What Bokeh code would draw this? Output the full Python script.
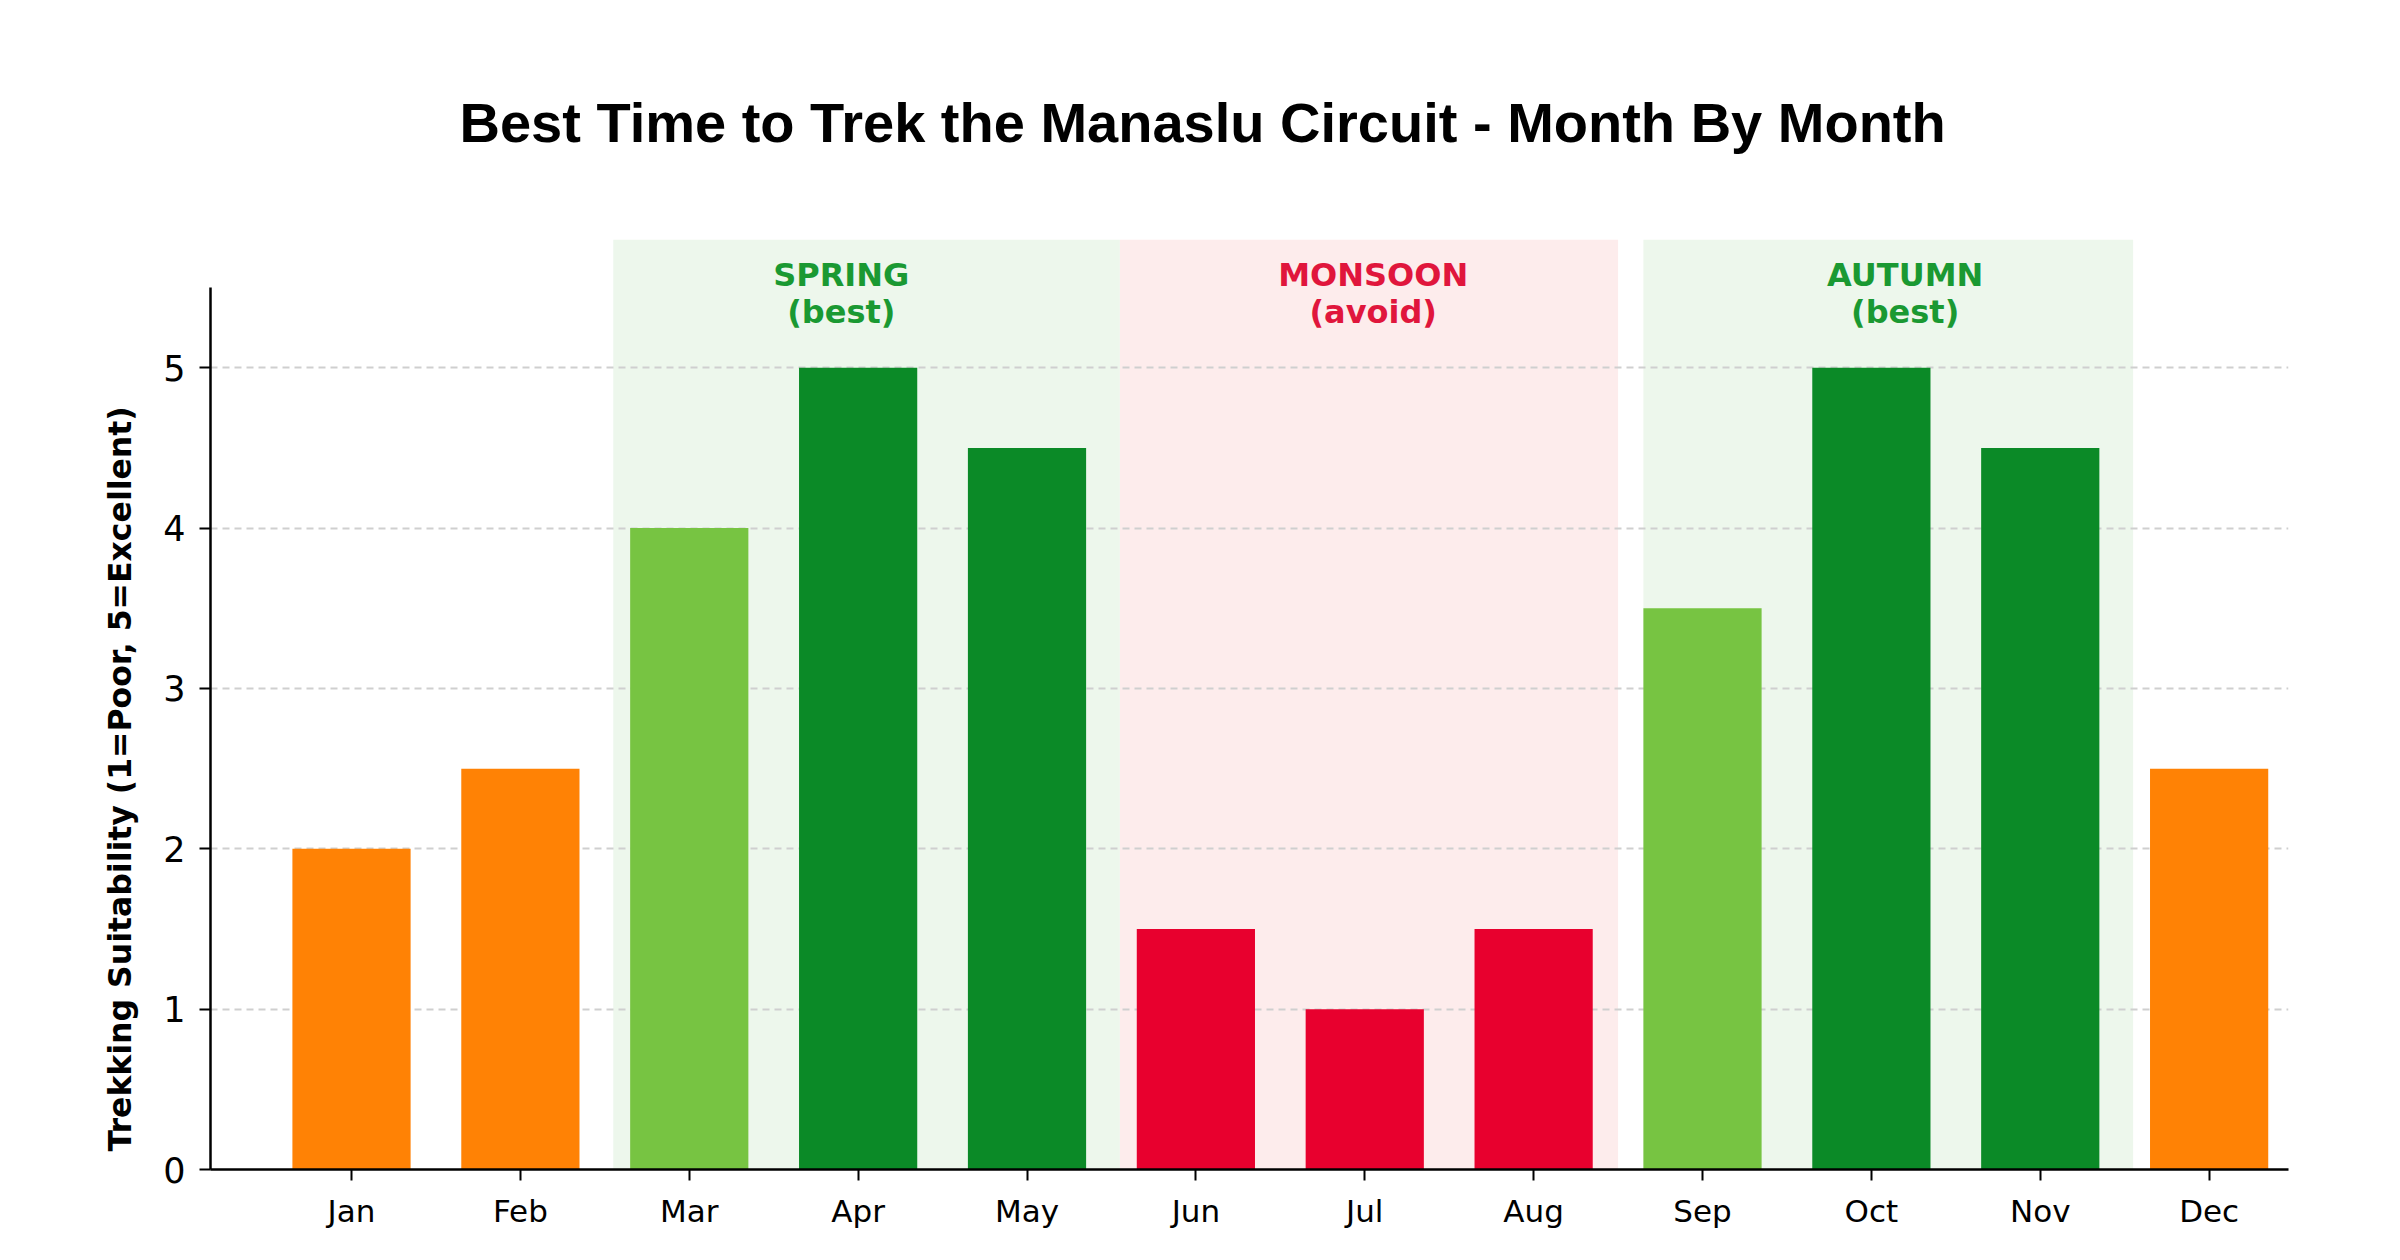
from bokeh.plotting import figure
from bokeh.models import Range1d, FixedTicker, BoxAnnotation, ColumnDataSource, Title
from bokeh.core.properties import value
from bokeh.embed import file_html
from bokeh.resources import INLINE

months = ["Jan", "Feb", "Mar", "Apr", "May", "Jun",
          "Jul", "Aug", "Sep", "Oct", "Nov", "Dec"]
scores = [2, 2.5, 4, 5, 4.5, 1.5, 1, 1.5, 3.5, 5, 4.5, 2.5]
bar_colors = ["#FF8205", "#FF8205", "#77C442", "#0B8A27", "#0B8A27", "#E8002E",
              "#E8002E", "#E8002E", "#77C442", "#0B8A27", "#0B8A27", "#FF8205"]

seasons = ["SPRING", "MONSOON", "AUTUMN"]
season_notes = ["(best)", "(avoid)", "(best)"]
season_start = [1.55, 4.55, 7.65]
season_end = [4.55, 7.5, 10.55]
season_fill = ["#EDF7EC", "#FDECEC", "#EDF7EC"]
season_text = ["#1A9932", "#E0163C", "#1A9932"]
season_label_x = [2.9, 6.05, 9.2]

x = list(range(len(months)))

p = figure(width=2384, height=1244, output_backend="svg", toolbar_location=None,
           x_range=Range1d(-0.835, 11.47), y_range=Range1d(0, 5.8),
           min_border_left=210, min_border_right=96,
           min_border_top=239, min_border_bottom=75)
p.outline_line_color = None
p.background_fill_color = "white"

p.title.text = "Best Time to Trek the Manaslu Circuit - Month By Month"
p.title.text_font = "Liberation Sans"
p.title.text_font_size = "56px"
p.title.text_font_style = "bold"
p.title.text_color = "black"
p.title.align = "left"
p.title.offset = 249
p.title.standoff = 172

for s, e, c in zip(season_start, season_end, season_fill):
    p.add_layout(BoxAnnotation(left=s, right=e, fill_color=c, fill_alpha=1.0,
                               line_color=None, level="image"))

p.vbar(x=x, top=scores, width=0.7, bottom=0, fill_color=bar_colors, line_color=None)

lab = ColumnDataSource(dict(x=season_label_x, name=seasons, note=season_notes,
                            color=season_text,
                            y1=[5.58] * 3, y2=[5.35] * 3))
p.text(x="x", y="y1", text="name", source=lab, text_color="color",
       text_font=value("DejaVu Sans"), text_font_style="bold",
       text_font_size="32px", text_align="center", text_baseline="middle")
p.text(x="x", y="y2", text="note", source=lab, text_color="color",
       text_font=value("DejaVu Sans"), text_font_style="bold",
       text_font_size="32px", text_align="center", text_baseline="middle")

p.xgrid.grid_line_color = None
p.ygrid.grid_line_color = "#cfcfcf"
p.ygrid.grid_line_dash = "7 5"
p.ygrid.grid_line_width = 2
p.ygrid.ticker = FixedTicker(ticks=[1, 2, 3, 4, 5])

p.xaxis.ticker = FixedTicker(ticks=x)
p.xaxis.major_label_overrides = {i: m for i, m in enumerate(months)}
p.yaxis.ticker = FixedTicker(ticks=[0, 1, 2, 3, 4, 5])
p.yaxis.bounds = (0, 5.5)

# y label as a left-hand title so it can be shifted along the axis
p.add_layout(Title(text="Trekking Suitability (1=Poor, 5=Excellent)",
                   text_font="DejaVu Sans", text_font_style="bold", text_font_size="31.5px",
                   text_color="black", align="left", offset=18, standoff=45), "left")

for ax in (p.xaxis, p.yaxis):
    ax.axis_line_color = "black"
    ax.axis_line_width = 2.5
    ax.major_tick_line_color = "black"
    ax.major_tick_line_width = 2
    ax.major_tick_out = 11
    ax.major_tick_in = 0
    ax.minor_tick_line_color = None
    ax.major_label_text_font = "DejaVu Sans"
    ax.major_label_text_color = "black"
p.xaxis.major_label_text_font_size = "31px"
p.yaxis.major_label_text_font_size = "35px"
p.xaxis.major_label_standoff = 12
p.yaxis.major_label_standoff = 14

open("out.html", "w").write(file_html(p, INLINE))
